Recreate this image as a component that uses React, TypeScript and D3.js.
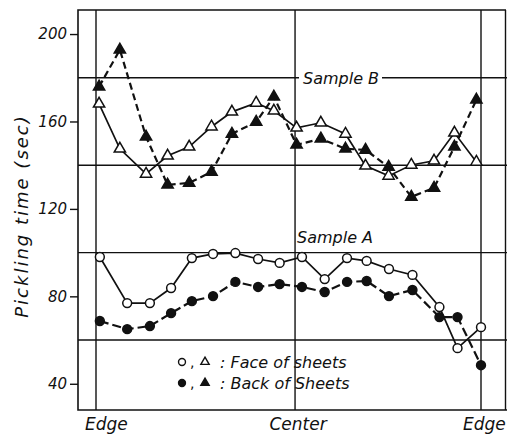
import React, { useEffect, useRef } from "react";
import * as d3 from "d3";

// position across the sheet width, 0 = edge, 100 = other edge
const posA = [1.0, 8.1, 14.0, 19.5, 24.9, 30.4, 36.2, 42.1, 47.7, 53.5, 59.4, 65.2, 70.3, 76.1, 82.2, 89.2, 93.9, 100];
const posB = [0.8, 6.2, 13.0, 18.6, 24.2, 30.0, 35.3, 41.6, 46.2, 52.1, 58.4, 64.8, 70.0, 76.0, 81.9, 87.8, 93.1, 98.8];

// pickling time (sec)
const faceA = [98.0, 76.9, 76.9, 83.8, 97.5, 99.4, 99.8, 97.1, 95.3, 98.0, 87.9, 97.5, 96.2, 92.5, 89.8, 75.1, 56.3, 65.9];
const backA = [68.7, 65.0, 66.4, 72.3, 77.8, 80.1, 86.6, 84.3, 85.6, 84.3, 82.0, 86.6, 87.0, 80.1, 82.9, 70.5, 70.5, 48.5];
const faceB = [168.1, 147.5, 136.0, 144.3, 148.4, 157.6, 164.4, 168.5, 164.9, 157.1, 159.4, 154.3, 139.7, 135.1, 140.1, 142.0, 154.8, 141.5];
const backB = [175.9, 192.8, 153.0, 131.0, 131.9, 136.9, 154.3, 159.8, 171.3, 149.3, 152.1, 147.5, 147.0, 139.2, 125.5, 129.6, 148.4, 169.9];

const yTicks = [200, 160, 120, 80, 40];
const yGrid = [180, 140, 100, 60];
const xMarks = [0, 51.7, 100];
const xLabels = ["Edge", "Center", "Edge"];

const FONT = "'DejaVu Sans', sans-serif";

const App = () => {
  const ref = useRef<SVGSVGElement>(null);

  function draw() {
    const svg = d3.select(ref.current);
    svg.selectAll("*").remove();
    const width = 507;
    const height = 439;
    const frameLeft = 78;
    const frameTop = 10;
    const frameBottom = 410;

    const x = d3.scaleLinear().domain([0, 100]).range([96, 481]);
    const y = d3.scaleLinear().domain([28, 211]).range([frameBottom, frameTop]);

    svg.attr("width", width).attr("height", height);
    svg.append("rect").attr("width", width).attr("height", height).attr("fill", "#fff");

    // frame
    svg
      .append("path")
      .attr("d", `M${width - 1},${frameTop}H${frameLeft}V${frameBottom}H${width}`)
      .attr("fill", "none")
      .attr("stroke", "#111")
      .attr("stroke-width", 1.6);
    svg
      .append("line")
      .attr("x1", width - 1.5)
      .attr("x2", width - 1.5)
      .attr("y1", frameTop)
      .attr("y2", frameBottom)
      .attr("stroke", "#111")
      .attr("stroke-width", 1.4);

    // grid
    svg
      .append("g")
      .selectAll("line")
      .data(yGrid)
      .join("line")
      .attr("x1", frameLeft)
      .attr("x2", width)
      .attr("y1", (d) => y(d))
      .attr("y2", (d) => y(d))
      .attr("stroke", "#111")
      .attr("stroke-width", 1.4);
    svg
      .append("g")
      .selectAll("line")
      .data(xMarks)
      .join("line")
      .attr("x1", (d) => x(d))
      .attr("x2", (d) => x(d))
      .attr("y1", frameTop)
      .attr("y2", frameBottom)
      .attr("stroke", "#111")
      .attr("stroke-width", 1.4);

    // y axis
    svg
      .append("g")
      .attr("transform", `translate(${frameLeft},0)`)
      .call(d3.axisLeft(y).tickValues(yTicks).tickSize(8).tickPadding(3).tickFormat(d3.format("d")))
      .call((g) => g.select(".domain").remove())
      .call((g) => g.selectAll("line").attr("stroke", "#111").attr("stroke-width", 1.4))
      .call((g) =>
        g
          .selectAll("text")
          .attr("font-family", FONT)
          .attr("font-style", "italic")
          .attr("font-size", 15)
          .attr("fill", "#111")
      );

    svg
      .append("text")
      .attr("transform", "translate(28,216) rotate(-90)")
      .attr("text-anchor", "middle")
      .attr("font-family", FONT)
      .attr("font-style", "italic")
      .attr("font-size", 18)
      .attr("letter-spacing", 2)
      .attr("fill", "#111")
      .text("Pickling time  (sec)");

    // x labels
    const xOffsets = [-11, 3, -18];
    const xAnchors = ["start", "middle", "start"];
    svg
      .append("g")
      .selectAll("text")
      .data(xMarks)
      .join("text")
      .attr("x", (d, i) => x(d) + xOffsets[i])
      .attr("y", 430)
      .attr("text-anchor", (d, i) => xAnchors[i])
      .attr("font-family", FONT)
      .attr("font-style", "italic")
      .attr("font-size", 17)
      .attr("fill", "#111")
      .text((d, i) => xLabels[i]);

    // sample labels
    svg
      .append("rect")
      .attr("x", 299)
      .attr("y", y(180) - 6)
      .attr("width", 83)
      .attr("height", 12)
      .attr("fill", "#fff");
    svg
      .append("text")
      .attr("x", 303)
      .attr("y", y(180) + 6)
      .attr("font-family", FONT)
      .attr("font-style", "italic")
      .attr("font-size", 16)
      .attr("fill", "#111")
      .text("Sample B");
    svg
      .append("text")
      .attr("x", 297)
      .attr("y", y(100) - 10)
      .attr("font-family", FONT)
      .attr("font-style", "italic")
      .attr("font-size", 16)
      .attr("fill", "#111")
      .text("Sample A");

    const line = (pos: number[]) =>
      d3
        .line<number>()
        .x((d, i) => x(pos[i]))
        .y((d) => y(d));

    const series = [
      { pos: posB, vals: backB, dash: "7,4", sym: d3.symbolTriangle, fill: "#111" },
      { pos: posB, vals: faceB, dash: null, sym: d3.symbolTriangle, fill: "#fff" },
      { pos: posA, vals: backA, dash: "9,4", sym: d3.symbolCircle, fill: "#111" },
      { pos: posA, vals: faceA, dash: null, sym: d3.symbolCircle, fill: "#fff" },
    ];

    series.forEach((s) => {
      svg
        .append("path")
        .attr("d", line(s.pos)(s.vals))
        .attr("fill", "none")
        .attr("stroke", "#111")
        .attr("stroke-width", s.dash ? 2.2 : 1.7)
        .attr("stroke-dasharray", s.dash);
    });

    series.forEach((s) => {
      const size = s.sym === d3.symbolTriangle ? 55 : 62;
      svg
        .append("g")
        .selectAll("path")
        .data(s.vals)
        .join("path")
        .attr("transform", (d, i) => `translate(${x(s.pos[i])},${y(d)})`)
        .attr("d", d3.symbol(s.sym, size)())
        .attr("fill", s.fill)
        .attr("stroke", "#111")
        .attr("stroke-width", 1.5);
    });

    // legend
    const legendRows = [
      { fill: "#fff", label: ": Face of sheets" },
      { fill: "#111", label: ": Back of Sheets" },
    ];
    const lg = svg.append("g");
    legendRows.forEach((r, i) => {
      const cy = 362 + i * 21;
      lg.append("path")
        .attr("transform", `translate(182,${cy})`)
        .attr("d", d3.symbol(d3.symbolCircle, 38)())
        .attr("fill", r.fill)
        .attr("stroke", "#111")
        .attr("stroke-width", 1.4);
      lg.append("text")
        .attr("x", 190)
        .attr("y", cy + 5)
        .attr("font-family", FONT)
        .attr("font-size", 14)
        .attr("fill", "#111")
        .text(",");
      lg.append("path")
        .attr("transform", `translate(205,${cy})`)
        .attr("d", d3.symbol(d3.symbolTriangle, 30)())
        .attr("fill", r.fill)
        .attr("stroke", "#111")
        .attr("stroke-width", 1.4);
      lg.append("text")
        .attr("x", 220)
        .attr("y", cy + 6)
        .attr("font-family", FONT)
        .attr("font-style", "italic")
        .attr("font-size", 16)
        .attr("fill", "#111")
        .text(r.label);
    });
  }

  useEffect(() => {
    draw();
  }, []);

  return <svg ref={ref} style={{ position: "absolute", left: 0, top: 0 }} />;
};

export default App;
